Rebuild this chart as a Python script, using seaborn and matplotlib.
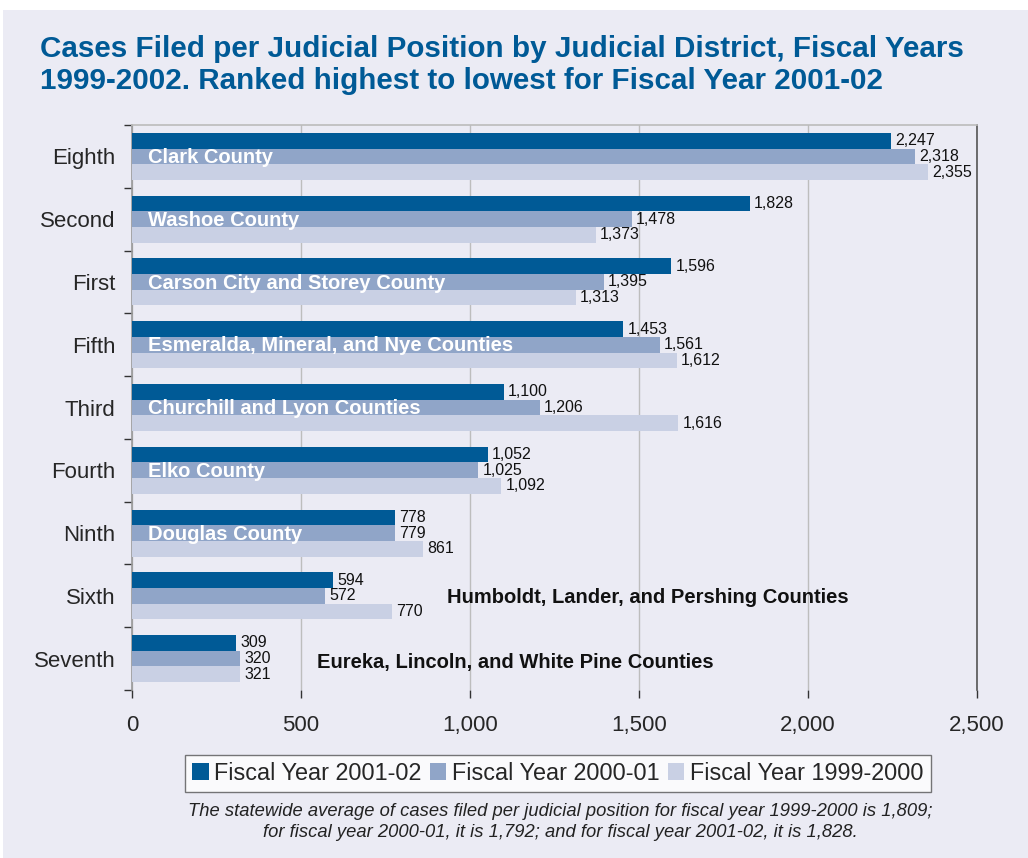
import pandas as pd
import matplotlib
matplotlib.use('Agg')
import matplotlib.pyplot as plt
from matplotlib.patches import Rectangle
from matplotlib.ticker import FuncFormatter, FixedLocator
import seaborn as sns

# Data
districts = ['Eighth', 'Second', 'First', 'Fifth', 'Third', 'Fourth', 'Ninth', 'Sixth', 'Seventh']
counties = ['Clark County', 'Washoe County', 'Carson City and Storey County',
            'Esmeralda, Mineral, and Nye Counties', 'Churchill and Lyon Counties',
            'Elko County', 'Douglas County',
            'Humboldt, Lander, and Pershing Counties',
            'Eureka, Lincoln, and White Pine Counties']
series = ['Fiscal Year 2001-02', 'Fiscal Year 2000-01', 'Fiscal Year 1999-2000']
fy_2001_02 = [2247, 1828, 1596, 1453, 1100, 1052, 778, 594, 309]
fy_2000_01 = [2318, 1478, 1395, 1561, 1206, 1025, 779, 572, 320]
fy_1999_00 = [2355, 1373, 1313, 1612, 1616, 1092, 861, 770, 321]
footnote = ("The statewide average of cases filed per judicial position for fiscal year 1999-2000 is 1,809;\n"
            "for fiscal year 2000-01, it is 1,792; and for fiscal year 2001-02, it is 1,828.")

BG = '#EBEBF4'
colors = ['#005A96', '#90A5C8', '#C9D0E4']

rows = []
for name, vals in zip(series, [fy_2001_02, fy_2000_01, fy_1999_00]):
    for d, v in zip(districts, vals):
        rows.append({'District': d, 'Year': name, 'Cases': v})
df = pd.DataFrame(rows)

sns.set_style('white')
plt.rcParams['font.family'] = ['Liberation Sans', 'DejaVu Sans']

fig = plt.figure(figsize=(10.28, 8.58), dpi=100)
fig.patch.set_facecolor('white')
fig.add_artist(Rectangle((3 / 1028, 0), 1, 1 - 10 / 858, transform=fig.transFigure,
                         facecolor=BG, edgecolor='none', zorder=-10))

ax = fig.add_axes([132 / 1028, 1 - 690 / 858, 845 / 1028, 565 / 858])
ax.set_facecolor(BG)

sns.barplot(data=df, y='District', x='Cases', hue='Year', order=districts,
            hue_order=series, palette=colors, orient='h', width=0.75,
            saturation=1, ax=ax, legend=True, linewidth=0, zorder=3)

for cont in ax.containers:
    ax.bar_label(cont, labels=[f'{v:,.0f}' for v in cont.datavalues],
                 padding=3, fontsize=11.5, color='#111111')

# county names
for i, c in enumerate(counties):
    if i < 7:
        ax.text(47, i + 0.02, c, color='white', fontsize=14.5, fontweight='bold',
                va='center', ha='left', zorder=5)
ax.text(932, 7 + 0.02, counties[7], color='#111111', fontsize=14.5, fontweight='bold',
        va='center', ha='left', zorder=5)
ax.text(547, 8 + 0.06, counties[8], color='#111111', fontsize=14.5, fontweight='bold',
        va='center', ha='left', zorder=5)

ax.set_xlim(0, 2500)
ax.set_ylim(len(districts) - 0.5, -0.5)
ax.set_xticks(range(0, 2501, 500))
ax.xaxis.set_major_formatter(FuncFormatter(lambda v, p: f'{v:,.0f}'))
ax.grid(axis='x', color='#BDBDBD', linewidth=1, zorder=0)
ax.set_axisbelow(True)
ax.set_xlabel('')
ax.set_ylabel('')

ax.tick_params(axis='x', labelsize=16, length=6, width=1, color='#333333',
               pad=12, bottom=True, direction='out')
ax.tick_params(axis='y', which='major', labelsize=16, length=0, pad=12)
ax.yaxis.set_minor_locator(FixedLocator([i - 0.5 for i in range(len(districts) + 1)]))
ax.tick_params(axis='y', which='minor', length=6, width=1, color='#333333', left=True)

ax.spines['bottom'].set_visible(False)
ax.spines['top'].set_color('#BBBBBB')
ax.spines['left'].set_color('#999999')
ax.spines['right'].set_color('#555555')
for s in ax.spines.values():
    s.set_linewidth(1.2)

handles, labels = ax.get_legend_handles_labels()
ax.get_legend().remove()
leg = fig.legend(handles, labels, loc='center', bbox_to_anchor=(558 / 1028, 1 - 773 / 858),
                 ncol=3, fontsize=16.8, frameon=True, fancybox=False, handlelength=0.7,
                 handleheight=0.7, handletextpad=0.25, columnspacing=0.35, borderpad=0.3)
leg.get_frame().set_edgecolor('#555555')
leg.get_frame().set_facecolor('white')
leg.get_frame().set_linewidth(1)

fig.text(40 / 1028, 1 - 65 / 858,
         'Cases Filed per Judicial Position by Judicial District, Fiscal Years\n'
         '1999-2002. Ranked highest to lowest for Fiscal Year 2001-02',
         color='#005A96', fontsize=21.3, fontweight='bold', ha='left', va='center',
         linespacing=1.22)
fig.text(560 / 1028, 1 - 822 / 858, footnote, fontsize=13.2, style='italic',
         ha='center', va='center', color='#222222', linespacing=1.32)

fig.savefig('out.png', dpi=100, facecolor=fig.get_facecolor())
